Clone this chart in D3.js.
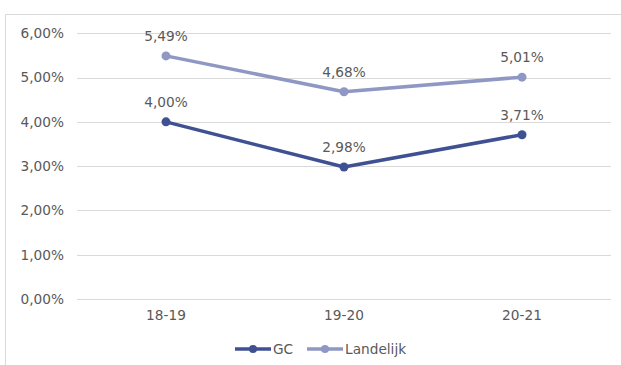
<!DOCTYPE html>
<html>
<head>
<meta charset="utf-8">
<script src="https://cdn.jsdelivr.net/npm/d3@7"></script>
<style>
  html, body { margin: 0; padding: 0; background: #fff; }
  svg { display: block; }
  text { font-family: "DejaVu Sans", Verdana, sans-serif; fill: #595959; }
</style>
</head>
<body>
<svg id="chart" width="621" height="365"></svg>
<script>
// School years on the x axis
const categories = ["18-19", "19-20", "20-21"];
// Percentages per series
const gcValues = [4.00, 2.98, 3.71];
const landelijkValues = [5.49, 4.68, 5.01];
// Y axis ticks
const yTicks = [0, 1, 2, 3, 4, 5, 6];

const series = [
  { name: "GC", values: gcValues, color: "#3F5192" },
  { name: "Landelijk", values: landelijkValues, color: "#8F97C4" }
];

const FS = 13.7;
const svg = d3.select("#chart");
const W = 621, H = 365;
const plot = { left: 77, right: 611, top: 33.3, bottom: 299 };

const fmt = v => v.toFixed(2).replace(".", ",") + "%";

// Chart frame (top and left edges visible)
svg.append("path")
  .attr("d", `M5.5,${H} V14.5 H${W}`)
  .attr("fill", "none")
  .attr("stroke", "#d9d9d9")
  .attr("stroke-width", 1);

const x = d3.scaleBand().domain(categories).range([plot.left, plot.right]);
const y = d3.scaleLinear().domain([0, 6]).range([plot.bottom, plot.top]);

// Horizontal gridlines
svg.append("g").selectAll("line").data(yTicks).join("line")
  .attr("x1", plot.left).attr("x2", plot.right)
  .attr("y1", d => Math.round(y(d)) + 0.5).attr("y2", d => Math.round(y(d)) + 0.5)
  .attr("stroke", "#d9d9d9").attr("stroke-width", 1);

// Y axis labels
const yAxis = d3.axisLeft(y).tickValues(yTicks).tickSize(0).tickPadding(0).tickFormat(fmt);
const gy = svg.append("g").attr("transform", `translate(${plot.left - 13},0)`).call(yAxis);
gy.select(".domain").remove();
gy.selectAll("text").attr("font-size", FS).attr("fill", "#595959")
  .attr("font-family", "'DejaVu Sans', Verdana, sans-serif");

// X axis labels
const xAxis = d3.axisBottom(x).tickSize(0).tickPadding(0);
const gx = svg.append("g").attr("transform", `translate(0,${plot.bottom + 11})`).call(xAxis);
gx.select(".domain").remove();
gx.selectAll("text").attr("font-size", FS).attr("fill", "#595959")
  .attr("font-family", "'DejaVu Sans', Verdana, sans-serif");

const cx = c => x(c) + x.bandwidth() / 2;

const line = d3.line().x((d, i) => cx(categories[i])).y(d => y(d));

series.forEach(s => {
  const g = svg.append("g");
  g.append("path")
    .attr("d", line(s.values))
    .attr("fill", "none")
    .attr("stroke", s.color)
    .attr("stroke-width", 3.5)
    .attr("stroke-linejoin", "round");
  g.selectAll("circle").data(s.values).join("circle")
    .attr("cx", (d, i) => cx(categories[i]))
    .attr("cy", d => y(d))
    .attr("r", 4.5)
    .attr("fill", s.color);
  g.selectAll("text").data(s.values).join("text")
    .attr("x", (d, i) => cx(categories[i]))
    .attr("y", d => y(d) - 15)
    .attr("text-anchor", "middle")
    .attr("font-size", FS)
    .text(fmt);
});

// Legend
const legend = svg.append("g");
const legendItems = [
  { s: series[0], x0: 235, tx: 273 },
  { s: series[1], x0: 307, tx: 345 }
];
legendItems.forEach(it => {
  legend.append("line")
    .attr("x1", it.x0).attr("x2", it.x0 + 36)
    .attr("y1", 349).attr("y2", 349)
    .attr("stroke", it.s.color).attr("stroke-width", 3.5);
  legend.append("circle")
    .attr("cx", it.x0 + 18).attr("cy", 349).attr("r", 4)
    .attr("fill", it.s.color);
  legend.append("text")
    .attr("x", it.tx).attr("y", 354)
    .attr("font-size", FS)
    .text(it.s.name);
});
</script>
</body>
</html>
